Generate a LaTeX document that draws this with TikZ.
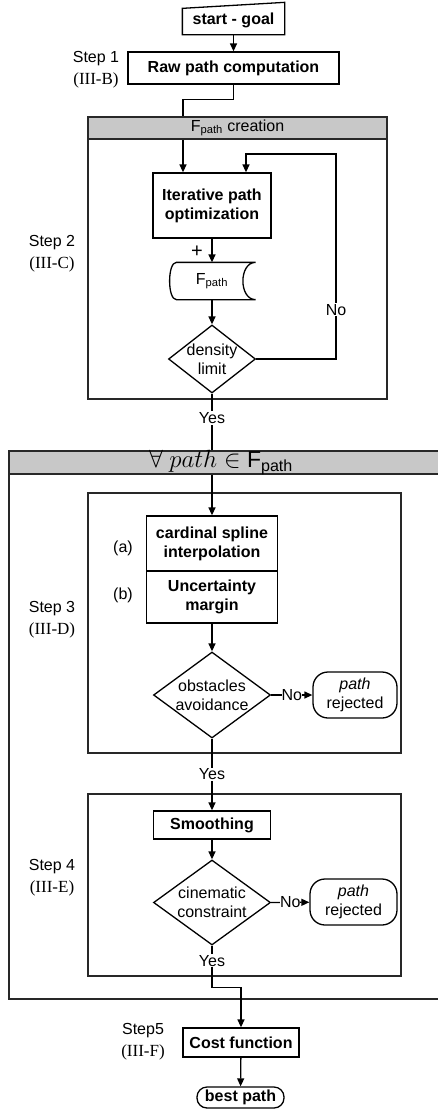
\documentclass[tikz,border=0pt]{standalone}
\usepackage{fontspec}
\newfontfamily\arialfont{Liberation Sans}
\newfontfamily\timesfont{Liberation Serif}
\usetikzlibrary{shapes.geometric,arrows.meta}
\definecolor{hdrgray}{RGB}{200,200,200}
\definecolor{framegray}{RGB}{40,40,40}

\begin{document}
\begin{tikzpicture}[x=1pt, y=-1pt, >={Triangle[length=8pt,width=7pt]}, line width=1.3pt,
        every node/.style={font=\arialfont\fontsize{16}{19}\selectfont},
        box/.style={draw, rectangle, align=center, inner sep=0pt,
            font=\arialfont\bfseries\fontsize{16}{19}\selectfont},
        cond/.style={draw, diamond, inner sep=0pt},
        term/.style={draw, rectangle, rounded corners=15pt, align=center, inner sep=0pt},
        steplbl/.style={align=center, font=\arialfont\fontsize{16}{22}\selectfont},
        lbl/.style={fill=white, inner sep=1pt},
        frame/.style={draw=framegray, line width=1.2pt}]
    \useasboundingbox (0,0) rectangle (438,1112);

    % frames
    \draw[frame] (88,117) rectangle (387,399);
    \draw[frame] (9,451) rectangle (450,999);
    \draw[frame] (88,493) rectangle (401,753);
    \draw[frame] (88,794) rectangle (401,976);

    \node[box, draw=none, minimum width=101, minimum height=28] (sg) at (233.5,20) {start - goal};
    \draw ([yshift=-3pt]sg.north west) -- ([yshift=3pt]sg.north east) -- (sg.south east) -- (sg.south west) -- cycle;
    \node[box, minimum width=211, minimum height=32] (raw) at (233.5,68) {Raw path computation};
    \node[steplbl] (s1) at (96,70) {Step 1\\{\timesfont\fontsize{17}{22}\selectfont (III-B)}};

    \node[box, minimum width=118, minimum height=65] (iter) at (212,205.5) {Iterative path\\optimization};
    \node[minimum width=86, minimum height=36, inner sep=0pt] (fp) at (212,281) {F\textsubscript{path}};
    \draw ([xshift=8pt]fp.north west) -- (fp.north east)
        .. controls ([xshift=-17pt]fp.north east) and ([xshift=-17pt]fp.south east) .. (fp.south east)
        -- ([xshift=8pt]fp.south west)
        .. controls ([xshift=-1pt]fp.south west) and ([xshift=-1pt]fp.north west) .. cycle;
    \node[cond, minimum width=87, minimum height=68] (dens) at (212,359) {};
    \node[align=center] (denstxt) at (dens) {density\\limit};
    \node[font=\arialfont\fontsize{20}{20}\selectfont] (plus) at (197,252) {+};
    \coordinate (loop) at (336,154);
    \node[steplbl] (s2) at (52,254) {Step 2\\{\timesfont\fontsize{17}{22}\selectfont (III-C)}};

    \node[box, minimum width=131, minimum height=55] (card) at (212,543.5) {cardinal spline\\interpolation};
    \node[box, minimum width=131, minimum height=52] (unc) at (212,597) {Uncertainty\\margin};
    \node (a) at (123,548) {(a)};
    \node (b) at (123,595) {(b)};
    \node[cond, minimum width=117, minimum height=86] (obs) at (212,695) {};
    \node[align=center] (obstxt) at (obs) {obstacles\\avoidance};
    \node[term, minimum width=84, minimum height=46] (rej1) at (355,695) {\textit{path}\\rejected};
    \node[steplbl] (s3) at (52,620) {Step 3\\{\timesfont\fontsize{17}{22}\selectfont (III-D)}};

    \node[box, minimum width=117, minimum height=28] (smooth) at (212,825) {Smoothing};
    \node[cond, minimum width=117, minimum height=85] (cin) at (212,902.5) {};
    \node[align=center] (cintxt) at (cin) {cinematic\\constraint};
    \node[term, minimum width=87, minimum height=46] (rej2) at (353.5,902) {\textit{path}\\rejected};
    \node[steplbl] (s4) at (52,878) {Step 4\\{\timesfont\fontsize{17}{22}\selectfont (III-E)}};

    \node[box, minimum width=116, minimum height=29] (cost) at (241,1042.5) {Cost function};
    \node[term, rounded corners=10pt, minimum width=87, minimum height=21,
        font=\arialfont\bfseries\fontsize{16}{19}\selectfont] (best) at (240.5,1097.5) {best path};
    \node[steplbl] (s5) at (143,1042) {Step5\\{\timesfont\fontsize{17}{22}\selectfont (III-F)}};

    \draw[->] (sg) -- (raw);
    \draw[->] (raw.south) -- ++(0,15) -| ([xshift=-29pt]iter.north);
    \draw[->] (iter) -- (fp);
    \draw[->] (fp) -- (dens);
    \draw[->] (dens.east) -| node[lbl, pos=0.62] {No} (loop) -| ([xshift=34pt]iter.north);
    \draw[->] (dens.south) -- node[lbl, pos=0.2] {Yes} (card.north);
    \draw[->] (unc) -- (obs);
    \draw[->] (obs.east) -- node[lbl, inner sep=0pt] {No} (rej1);
    \draw[->] (obs.south) -- node[lbl] {Yes} (smooth.north);
    \draw[->] (smooth) -- (cin);
    \draw[->] (cin.east) -- node[lbl, inner sep=0pt] {No} (rej2);
    \draw[->] (cin.south) -- node[lbl, pos=0.36] {Yes} ++(0,42) -| (cost.north);
    \draw[->] (cost) -- (best);

    % headers on top of the lines
    \filldraw[frame, fill=hdrgray] (88,117) rectangle (387,139);
    \node (hdr1) at (237.5,128) {F\textsubscript{path} creation};
    \filldraw[frame, fill=hdrgray] (9,451) rectangle (450,474);
    \node[font=\arialfont\fontsize{23}{24}\selectfont] (hdr2) at (221,462.5) {$\forall\ path \in$ F\textsubscript{path}};
\end{tikzpicture}
\end{document}
